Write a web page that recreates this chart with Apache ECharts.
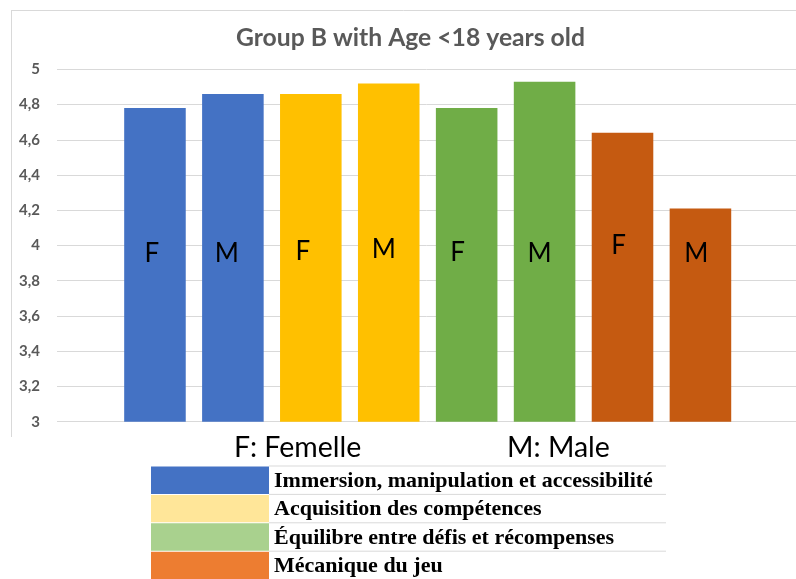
<!DOCTYPE html>
<html>
<head>
<meta charset="utf-8">
<script src="https://cdn.jsdelivr.net/npm/echarts@6/dist/echarts.min.js"></script>
<style>
  html, body { margin: 0; padding: 0; background: #ffffff; }
  #chart { width: 796px; height: 579px; }
</style>
</head>
<body>
<div id="chart"></div>
<script>
// Dimension names (one colour per dimension) and the two gender groups
const dimensions = [
  'Immersion, manipulation et accessibilité',
  'Acquisition des compétences',
  'Équilibre entre défis et récompenses',
  'Mécanique du jeu'
];
const genders = ['F', 'M'];
const genderNames = ['F: Femelle', 'M: Male'];

// Mean scores per dimension
const scoresFemale = [4.78, 4.86, 4.78, 4.64];
const scoresMale   = [4.86, 4.92, 4.93, 4.21];

// Y axis range and step
const yMin = 3, yMax = 5, yStep = 0.2;

const barColors    = ['#4472C4', '#FFC000', '#70AD47', '#C55A11'];
const legendColors = ['#4472C4', '#FFE699', '#A9D18E', '#ED7D31'];

// Small nudges for the F / M letters drawn on the bars
const tagNudge = [[-3, 2], [-6, 2], [-8, 0], [-5, -2], [-9, 1], [-5, 2], [-4, -6], [-4, 2]];

// Interleave F / M for each dimension
const categories = [];
const values = [];
const colors = [];
const tags = [];
dimensions.forEach((d, i) => {
  [scoresFemale[i], scoresMale[i]].forEach((v, g) => {
    categories.push(d + ' ' + genders[g]);
    values.push(v);
    colors.push(barColors[i]);
    tags.push(genders[g]);
  });
});

const chart = echarts.init(document.getElementById('chart'), null, { renderer: 'canvas' });

const plotTop = 69.3, plotBottom = 579 - 421.7;

const barData = values.map((v, i) => ({
  value: v,
  itemStyle: { color: colors[i] },
  label: { offset: tagNudge[i] }
}));

// Legend table below the chart
const legendGraphics = [];
const rowTop = 466, rowH = 28.4, swX = 151, swW = 118;
dimensions.forEach((d, i) => {
  const y = rowTop + i * rowH;
  legendGraphics.push({
    type: 'rect', silent: true,
    shape: { x: swX, y: y + 0.5, width: swW, height: rowH - 1 },
    style: { fill: legendColors[i] }
  });
  legendGraphics.push({
    type: 'line', silent: true,
    shape: { x1: swX + swW, y1: y, x2: 666, y2: y },
    style: { stroke: '#d9d9d9', lineWidth: 1 }
  });
  legendGraphics.push({
    type: 'text', silent: true,
    x: 274, y: y + rowH / 2 + 1,
    style: {
      text: d,
      fill: '#000000',
      font: 'bold 22px "Liberation Serif", "Times New Roman", serif',
      verticalAlign: 'middle'
    }
  });
});

const sansFont = 'Lato, "Open Sans", sans-serif';

const option = {
  backgroundColor: '#ffffff',
  animation: false,
  title: {
    text: 'Group B with Age <18 years old',
    left: 231,
    top: 21,
    textStyle: { color: '#595959', fontSize: 24.7, fontWeight: 'bold', fontFamily: sansFont }
  },
  grid: [
    { left: 57, right: 0, top: plotTop, bottom: plotBottom },
    { left: 116, width: 623.4, top: plotTop, bottom: plotBottom }
  ],
  xAxis: [
    { gridIndex: 0, type: 'value', min: 0, max: 1, show: false },
    {
      gridIndex: 1, type: 'category', data: categories,
      axisLine: { show: false }, axisTick: { show: false }, axisLabel: { show: false }
    }
  ],
  yAxis: [
    {
      gridIndex: 0, type: 'value', min: yMin, max: yMax, interval: yStep,
      axisLine: { show: false }, axisTick: { show: false },
      splitLine: { lineStyle: { color: '#d9d9d9', width: 1 } },
      axisLabel: {
        margin: 17,
        color: '#595959',
        fontSize: 15,
        fontWeight: 'bold',
        fontFamily: sansFont,
        formatter: v => String(Math.round(v * 10) / 10).replace('.', ',')
      }
    },
    { gridIndex: 1, type: 'value', min: yMin, max: yMax, interval: yStep, show: false }
  ],
  series: [
    {
      type: 'bar',
      xAxisIndex: 1, yAxisIndex: 1,
      data: barData,
      barCategoryGap: '21%',
      label: {
        show: true,
        position: 'insideBottom',
        distance: 155,
        formatter: p => tags[p.dataIndex],
        color: '#000000',
        fontSize: 26,
        lineHeight: 30,
        fontFamily: sansFont
      }
    }
  ],
  graphic: [
    // chart frame edges
    { type: 'line', silent: true, shape: { x1: 11, y1: 10.5, x2: 796, y2: 10.5 }, style: { stroke: '#d9d9d9', lineWidth: 1 } },
    { type: 'line', silent: true, shape: { x1: 11.5, y1: 10, x2: 11.5, y2: 437 }, style: { stroke: '#d9d9d9', lineWidth: 1 } },
    // gender key
    {
      type: 'text', silent: true, x: 234, y: 448,
      style: { text: genderNames[0], fill: '#000000', font: '28.5px ' + sansFont, verticalAlign: 'middle' }
    },
    {
      type: 'text', silent: true, x: 507, y: 448,
      style: { text: genderNames[1], fill: '#000000', font: '28.5px ' + sansFont, verticalAlign: 'middle' }
    }
  ].concat(legendGraphics)
};

chart.setOption(option);
</script>
</body>
</html>
